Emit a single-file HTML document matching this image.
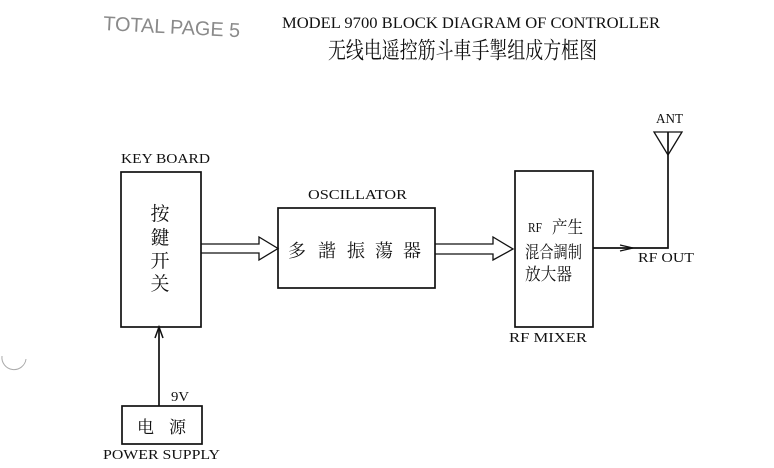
<!DOCTYPE html>
<html><head><meta charset="utf-8"><style>
html,body{margin:0;padding:0;background:#fff;}
svg{display:block;}
.m{font-family:"Liberation Serif","Noto Serif CJK SC",serif;fill:#111;}
.c{font-family:"Noto Serif CJK SC","Noto Sans CJK SC",serif;fill:#111;}
</style></head><body>
<svg width="774" height="468" viewBox="0 0 774 468" xmlns="http://www.w3.org/2000/svg">
<rect width="774" height="468" fill="#fff"/>
<!-- handwritten -->
<text x="103" y="30" font-family="Liberation Sans, sans-serif" font-size="20" fill="#8a8a8a" textLength="137" lengthAdjust="spacingAndGlyphs" transform="rotate(3 103 30)">TOTAL PAGE 5</text>
<!-- title -->
<text class="m" x="282" y="28" font-size="16" textLength="378" lengthAdjust="spacingAndGlyphs">MODEL 9700 BLOCK DIAGRAM OF CONTROLLER</text>
<text class="c" x="328" y="58" font-size="23" textLength="269" lengthAdjust="spacingAndGlyphs">无线电遥控筋斗車手掣组成方框图</text>

<g fill="none" stroke="#111" stroke-width="1.7">
<rect x="121" y="172" width="80" height="155"/>
<path d="M201,244 H259 V237 L278,248.5 L259,260 V253 H201" stroke-width="1.3"/>
<rect x="278" y="208" width="157" height="80"/>
<path d="M435,244 H493 V237 L513,249 L493,260 V254 H435" stroke-width="1.3"/>
<rect x="515" y="171" width="78" height="156"/>
<path d="M593,248 H668 V132"/>
<path d="M620,245 L633,248 L620,251" stroke-width="1.3"/>
<path d="M654,132 H682 L668,155 Z" stroke-width="1.3"/>
<path d="M159,406 V327"/>
<path d="M155,338 L159,327 L163,338" stroke-width="1.5"/>
<rect x="122" y="406" width="80" height="38"/>
</g>
<path d="M2,356 A12,12 0 0 0 26,359" fill="none" stroke="#aaa" stroke-width="1"/>

<!-- labels -->
<text class="m" x="121" y="163" font-size="14" textLength="89" lengthAdjust="spacingAndGlyphs">KEY  BOARD</text>
<text class="m" x="308" y="199" font-size="14" textLength="99" lengthAdjust="spacingAndGlyphs">OSCILLATOR</text>
<text class="m" x="509" y="342" font-size="14" textLength="78" lengthAdjust="spacingAndGlyphs">RF MIXER</text>
<text class="m" x="656" y="123" font-size="14" textLength="27" lengthAdjust="spacingAndGlyphs">ANT</text>
<text class="m" x="638" y="262" font-size="14" textLength="56" lengthAdjust="spacingAndGlyphs">RF  OUT</text>
<text class="m" x="171" y="401" font-size="14" textLength="18" lengthAdjust="spacingAndGlyphs">9V</text>
<text class="m" x="103" y="459" font-size="14" textLength="117" lengthAdjust="spacingAndGlyphs">POWER SUPPLY</text>

<g class="c" font-size="19" text-anchor="middle">
<text x="160" y="220">按</text>
<text x="160" y="244">鍵</text>
<text x="160" y="267">开</text>
<text x="160" y="290">关</text>
</g>
<g class="c" font-size="18" text-anchor="middle">
<text x="297" y="257">多</text>
<text x="327" y="257">諧</text>
<text x="356" y="257">振</text>
<text x="384" y="257">蕩</text>
<text x="412" y="257">器</text>
</g>
<text class="m" x="528" y="232" font-size="14" textLength="14" lengthAdjust="spacingAndGlyphs">RF</text>
<text class="c" x="552" y="233" font-size="17" textLength="31" lengthAdjust="spacingAndGlyphs">产生</text>
<text class="c" x="525" y="258" font-size="17" textLength="57" lengthAdjust="spacingAndGlyphs">混合調制</text>
<text class="c" x="525" y="280" font-size="17" textLength="47" lengthAdjust="spacingAndGlyphs">放大器</text>
<text class="c" x="137" y="433" font-size="17">电</text>
<text class="c" x="169" y="433" font-size="17">源</text>
</svg>
</body></html>
